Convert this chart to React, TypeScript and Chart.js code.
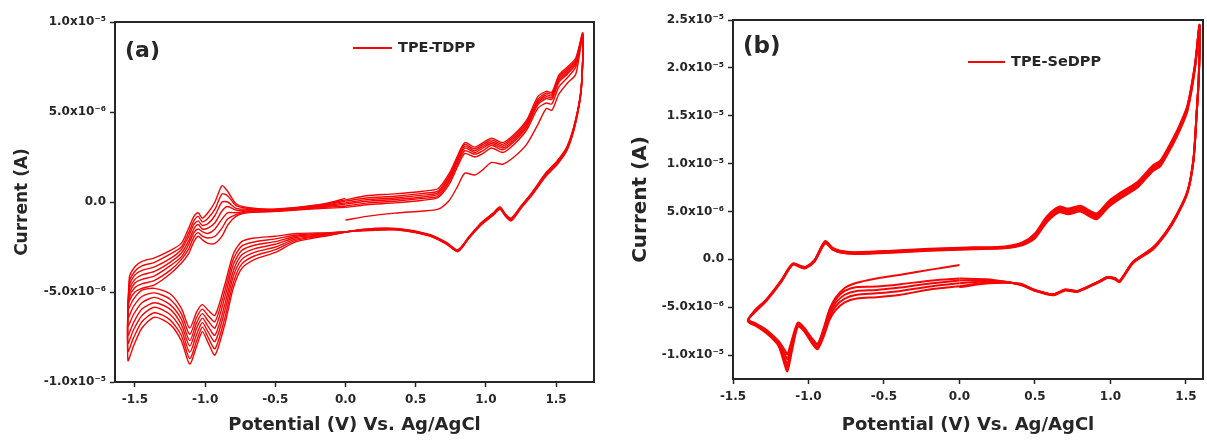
import { useEffect, useRef } from 'react';
import { Chart, registerables } from 'chart.js';

Chart.register(...registerables);

// ---------------- Panel (a): TPE-TDPP ----------------
// Potential program of one cycle (V): 0 -> +1.69 -> -1.55 -> 0
const A_POTENTIAL = [
  0.0, 0.15, 0.35, 0.55, 0.66, 0.74, 0.8, 0.85, 0.92, 0.98, 1.04, 1.12, 1.2, 1.29, 1.37, 1.43, 1.47, 1.52, 1.58, 1.64, 1.69,
  1.68, 1.64, 1.58, 1.51, 1.43, 1.33, 1.25, 1.18, 1.14, 1.1, 1.05, 0.97, 0.88, 0.8, 0.72, 0.6, 0.36, 0.12, -0.11, -0.35,
  -0.5, -0.65, -0.74, -0.8, -0.86, -0.93, -0.98, -1.02, -1.06, -1.11, -1.17, -1.25, -1.36, -1.45, -1.51, -1.55,
  -1.54, -1.5, -1.45, -1.36, -1.25, -1.17, -1.12, -1.08, -1.05, -1.02, -0.98, -0.93, -0.88, -0.84, -0.78, -0.7, -0.55, -0.35, -0.15, 0.0,
];

// Currents in microampere, one array per cycle
const A_CYCLE_1 = [
  -1.0, -0.8, -0.62, -0.5, -0.4, 0.1, 0.9, 1.6, 1.5, 1.8, 2.2, 2.1, 2.5, 3.2, 4.3, 5.2, 5.1, 6.0, 6.6, 7.1, 9.3,
  6.3, 4.4, 2.9, 2.1, 1.45, 0.4, -0.35, -1.05, -0.8, -0.4, -0.75, -1.25, -2.0, -2.75, -2.35, -1.9, -1.55, -1.6, -1.7, -1.75,
  -1.9, -2.0, -2.2, -2.9, -4.6, -6.3, -6.0, -5.7, -6.1, -7.0, -5.9, -5.1, -4.8, -4.9, -5.4, -6.0,
  -5.5, -5.0, -4.8, -4.6, -4.0, -3.4, -2.9, -2.2, -1.9, -2.1, -2.3, -2.3, -1.9, -1.3, -0.8, -0.6, -0.55, -0.45, -0.35, -0.3,
];
const A_CYCLE_2 = [
  -0.3, -0.15, -0.05, 0.1, 0.25, 1.0, 2.0, 2.7, 2.5, 2.7, 3.0, 2.75, 3.2, 4.0, 5.2, 5.5, 5.45, 6.4, 6.9, 7.5, 9.2,
  6.35, 4.45, 2.95, 2.15, 1.5, 0.42, -0.33, -1.0, -0.78, -0.38, -0.72, -1.22, -2.0, -2.75, -2.33, -1.88, -1.54, -1.58, -1.72, -1.83,
  -2.05, -2.22, -2.45, -3.2, -4.95, -6.65, -6.3, -5.95, -6.4, -7.35, -6.2, -5.4, -5.05, -5.25, -5.8, -6.45,
  -5.3, -4.75, -4.55, -4.35, -3.8, -3.2, -2.65, -1.95, -1.7, -1.9, -2.0, -1.9, -1.45, -0.95, -0.7, -0.55, -0.52, -0.42, -0.3, -0.22,
];
const A_CYCLE_3 = [
  -0.22, -0.06, 0.04, 0.2, 0.33, 1.15, 2.15, 2.85, 2.65, 2.85, 3.15, 2.9, 3.35, 4.15, 5.4, 5.75, 5.7, 6.65, 7.1, 7.65, 9.3,
  6.4, 4.5, 3.0, 2.2, 1.55, 0.45, -0.3, -1.0, -0.75, -0.35, -0.7, -1.2, -1.98, -2.72, -2.3, -1.87, -1.52, -1.57, -1.75, -1.9,
  -2.2, -2.4, -2.7, -3.5, -5.3, -7.0, -6.6, -6.2, -6.7, -7.7, -6.5, -5.7, -5.3, -5.6, -6.25, -6.9,
  -5.1, -4.5, -4.3, -4.1, -3.55, -3.05, -2.4, -1.7, -1.5, -1.65, -1.75, -1.5, -0.95, -0.6, -0.6, -0.5, -0.5, -0.4, -0.26, -0.12,
];
const A_CYCLE_4 = [
  -0.12, 0.04, 0.14, 0.28, 0.43, 1.25, 2.3, 3.0, 2.75, 3.0, 3.25, 3.0, 3.45, 4.25, 5.5, 5.85, 5.8, 6.75, 7.2, 7.75, 9.3,
  6.3, 4.55, 3.05, 2.2, 1.55, 0.47, -0.3, -0.98, -0.75, -0.35, -0.7, -1.2, -1.97, -2.7, -2.3, -1.85, -1.5, -1.55, -1.78, -1.97,
  -2.35, -2.6, -2.95, -3.85, -5.7, -7.4, -6.9, -6.45, -7.0, -8.0, -6.8, -5.95, -5.6, -5.95, -6.7, -7.4,
  -4.9, -4.3, -4.05, -3.85, -3.35, -2.85, -2.2, -1.5, -1.25, -1.5, -1.45, -1.15, -0.5, -0.25, -0.45, -0.45, -0.47, -0.37, -0.22, -0.05,
];
const A_CYCLE_5 = [
  -0.05, 0.13, 0.22, 0.38, 0.52, 1.38, 2.4, 3.1, 2.85, 3.1, 3.35, 3.1, 3.55, 4.35, 5.6, 5.95, 5.9, 6.85, 7.3, 7.85, 9.35,
  6.45, 4.5, 3.0, 2.25, 1.6, 0.5, -0.27, -0.95, -0.72, -0.32, -0.68, -1.18, -1.95, -2.7, -2.28, -1.84, -1.5, -1.55, -1.8, -2.05,
  -2.5, -2.8, -3.2, -4.15, -6.05, -7.75, -7.2, -6.7, -7.35, -8.35, -7.1, -6.25, -5.85, -6.3, -7.1, -7.85,
  -4.7, -4.05, -3.8, -3.6, -3.15, -2.65, -1.95, -1.25, -1.05, -1.3, -1.2, -0.75, 0.0, 0.0, -0.35, -0.4, -0.45, -0.35, -0.18, 0.05,
];
const A_CYCLE_6 = [
  0.05, 0.22, 0.32, 0.48, 0.62, 1.48, 2.5, 3.2, 2.95, 3.2, 3.45, 3.2, 3.65, 4.45, 5.7, 6.05, 6.0, 6.95, 7.4, 7.9, 9.3,
  6.4, 4.6, 3.1, 2.3, 1.6, 0.5, -0.25, -0.95, -0.7, -0.3, -0.65, -1.15, -1.95, -2.68, -2.27, -1.83, -1.48, -1.53, -1.82, -2.12,
  -2.65, -3.0, -3.45, -4.5, -6.45, -8.15, -7.5, -6.95, -7.7, -8.7, -7.4, -6.55, -6.15, -6.65, -7.55, -8.3,
  -4.45, -3.85, -3.55, -3.35, -2.9, -2.5, -1.75, -1.05, -0.8, -1.1, -0.9, -0.4, 0.45, 0.35, -0.2, -0.35, -0.42, -0.32, -0.14, 0.12,
];
const A_CYCLE_7 = [
  0.12, 0.35, 0.45, 0.6, 0.75, 1.6, 2.6, 3.3, 3.05, 3.3, 3.55, 3.3, 3.75, 4.55, 5.85, 6.15, 6.1, 7.05, 7.5, 8.0, 9.4,
  6.5, 4.6, 3.1, 2.3, 1.65, 0.55, -0.22, -0.9, -0.68, -0.28, -0.62, -1.12, -1.92, -2.65, -2.25, -1.8, -1.47, -1.52, -1.85, -2.2,
  -2.8, -3.2, -3.7, -4.8, -6.8, -8.5, -7.8, -7.2, -8.0, -9.0, -7.7, -6.8, -6.4, -7.0, -8.0, -8.8,
  -4.2, -3.6, -3.3, -3.1, -2.7, -2.3, -1.5, -0.8, -0.6, -0.9, -0.6, 0.0, 0.9, 0.6, -0.1, -0.3, -0.4, -0.3, -0.1, 0.2,
];
const A_CYCLES = [A_CYCLE_1, A_CYCLE_2, A_CYCLE_3, A_CYCLE_4, A_CYCLE_5, A_CYCLE_6, A_CYCLE_7];

const A_X_TICKS = [-1.5, -1.0, -0.5, 0.0, 0.5, 1.0, 1.5];
const A_X_LABELS = ['-1.5', '-1.0', '-0.5', '0.0', '0.5', '1.0', '1.5'];
const A_Y_TICKS = [-1e-5, -5e-6, 0, 5e-6, 1e-5];
const A_Y_LABELS = ['-1.0x10\u207B\u2075', '-5.0x10\u207B\u2076', '0.0', '5.0x10\u207B\u2076', '1.0x10\u207B\u2075'];

// ---------------- Panel (b): TPE-SeDPP ----------------
// Potential program of one cycle (V): 0 -> -1.40 -> +1.59 -> 0
const B_POTENTIAL = [
  0.0, -0.18, -0.39, -0.55, -0.68, -0.76, -0.82, -0.86, -0.9, -0.94, -0.98, -1.03, -1.07, -1.11, -1.14, -1.16, -1.2, -1.28, -1.35, -1.4,
  -1.36, -1.28, -1.18, -1.13, -1.1, -1.05, -1.02, -0.96, -0.89, -0.84, -0.79, -0.7, -0.45, -0.2, 0.1, 0.3, 0.42, 0.5, 0.58, 0.66,
  0.72, 0.8, 0.86, 0.91, 0.99, 1.08, 1.18, 1.28, 1.33, 1.41, 1.46, 1.51, 1.56, 1.59,
  1.585, 1.57, 1.55, 1.51, 1.44, 1.37, 1.28, 1.15, 1.06, 1.03, 0.98, 0.93, 0.85, 0.78, 0.7, 0.62, 0.5, 0.4, 0.2, 0.0,
];

const B_CYCLE_1 = [
  -0.6, -1.05, -1.6, -2.0, -2.45, -3.0, -4.0, -5.2, -7.2, -8.8, -8.2, -7.1, -6.6, -8.4, -9.9, -9.4, -8.5, -7.35, -6.7, -6.3,
  -5.6, -4.35, -2.35, -1.05, -0.55, -0.85, -0.95, -0.25, 1.65, 1.0, 0.7, 0.55, 0.7, 0.9, 1.05, 1.15, 1.5, 2.2, 3.9, 4.9,
  4.7, 5.0, 4.5, 4.2, 5.5, 6.5, 7.5, 9.2, 9.7, 11.9, 13.5, 15.5, 19.9, 24.3,
  18.9, 14.9, 10.3, 6.9, 4.5, 2.7, 1.0, -0.4, -2.4, -2.1, -1.95, -2.35, -2.95, -3.4, -3.25, -3.75, -3.3, -2.65, -2.1, -2.0,
];
const B_CYCLE_2 = [
  -2.0, -2.2, -2.6, -2.85, -2.9, -3.3, -4.2, -5.3, -7.4, -8.9, -8.3, -7.2, -6.7, -8.7, -10.4, -9.8, -8.6, -7.4, -6.75, -6.35,
  -5.55, -4.3, -2.3, -1.0, -0.5, -0.8, -0.9, -0.2, 1.7, 1.05, 0.75, 0.6, 0.75, 0.95, 1.1, 1.2, 1.55, 2.35, 4.05, 5.05,
  4.85, 5.15, 4.65, 4.35, 5.65, 6.65, 7.65, 9.35, 9.85, 12.05, 13.65, 15.65, 20.05, 24.4,
  18.95, 15.0, 10.4, 7.0, 4.6, 2.8, 1.1, -0.3, -2.35, -2.05, -1.9, -2.3, -2.9, -3.35, -3.2, -3.7, -3.25, -2.6, -2.2, -2.2,
];
const B_CYCLE_3 = [
  -2.2, -2.5, -2.95, -3.2, -3.3, -3.7, -4.55, -5.6, -7.6, -9.1, -8.45, -7.3, -6.8, -9.0, -10.9, -10.2, -8.8, -7.5, -6.8, -6.4,
  -5.5, -4.3, -2.25, -0.95, -0.45, -0.8, -0.85, -0.15, 1.8, 1.1, 0.8, 0.65, 0.8, 1.0, 1.15, 1.25, 1.65, 2.45, 4.2, 5.2,
  5.0, 5.3, 4.8, 4.5, 5.8, 6.8, 7.8, 9.5, 10.0, 12.2, 13.8, 15.8, 20.2, 24.4,
  19.0, 15.0, 10.4, 7.0, 4.6, 2.8, 1.1, -0.3, -2.3, -2.0, -1.9, -2.3, -2.9, -3.35, -3.2, -3.7, -3.25, -2.6, -2.3, -2.5,
];
const B_CYCLE_4 = [
  -2.5, -2.8, -3.3, -3.55, -3.7, -4.1, -4.9, -6.0, -7.9, -9.2, -8.6, -7.4, -6.9, -9.3, -11.3, -10.6, -8.9, -7.6, -6.85, -6.45,
  -5.45, -4.25, -2.2, -0.95, -0.45, -0.75, -0.85, -0.1, 1.85, 1.15, 0.85, 0.7, 0.85, 1.05, 1.2, 1.3, 1.7, 2.55, 4.35, 5.35,
  5.15, 5.45, 4.95, 4.65, 5.95, 6.95, 7.95, 9.65, 10.15, 12.35, 13.95, 15.95, 20.3, 24.5,
  19.1, 15.1, 10.5, 7.1, 4.7, 2.9, 1.2, -0.25, -2.3, -2.0, -1.85, -2.25, -2.85, -3.3, -3.15, -3.65, -3.2, -2.55, -2.4, -2.8,
];
const B_CYCLE_5 = [
  -2.8, -3.1, -3.7, -3.95, -4.1, -4.5, -5.3, -6.3, -8.1, -9.4, -8.7, -7.5, -7.0, -9.6, -11.7, -10.9, -9.0, -7.7, -6.95, -6.5,
  -5.4, -4.2, -2.2, -0.9, -0.4, -0.7, -0.8, -0.05, 1.9, 1.2, 0.9, 0.75, 0.9, 1.1, 1.25, 1.35, 1.8, 2.7, 4.5, 5.5,
  5.3, 5.6, 5.1, 4.8, 6.1, 7.1, 8.1, 9.8, 10.3, 12.5, 14.1, 16.1, 20.4, 24.5,
  19.1, 15.1, 10.5, 7.1, 4.7, 2.9, 1.2, -0.25, -2.25, -1.95, -1.85, -2.25, -2.85, -3.3, -3.15, -3.65, -3.2, -2.55, -2.5, -2.9,
];
const B_CYCLES = [B_CYCLE_1, B_CYCLE_2, B_CYCLE_3, B_CYCLE_4, B_CYCLE_5];

const B_X_TICKS = [-1.5, -1.0, -0.5, 0.0, 0.5, 1.0, 1.5];
const B_X_LABELS = ['-1.5', '-1.0', '-0.5', '0.0', '0.5', '1.0', '1.5'];
const B_Y_TICKS = [-1e-5, -5e-6, 0, 5e-6, 1e-5, 1.5e-5, 2e-5, 2.5e-5];
const B_Y_LABELS = [
  '-1.0x10\u207B\u2075', '-5.0x10\u207B\u2076', '0.0', '5.0x10\u207B\u2076',
  '1.0x10\u207B\u2075', '1.5x10\u207B\u2075', '2.0x10\u207B\u2075', '2.5x10\u207B\u2075',
];

const X_TITLE = 'Potential (V) Vs. Ag/AgCl';
const Y_TITLE = 'Current (A)';

// ---------------- styling ----------------
const RED = 'rgb(245, 6, 6)';
const INK = '#262626';
const FONT = "'DejaVu Sans', 'Liberation Sans', Arial, sans-serif";

const decorPlugin = {
  id: 'cvDecor',
  afterDraw(chart: any, _args: any, opts: any) {
    const { ctx, chartArea: a } = chart;
    ctx.save();
    ctx.strokeStyle = INK;
    ctx.lineWidth = 2;
    ctx.strokeRect(a.left, a.top, a.right - a.left, a.bottom - a.top);
    ctx.fillStyle = INK;
    ctx.textAlign = 'left';
    ctx.textBaseline = 'middle';
    ctx.font = `bold ${opts.labelSize}px ${FONT}`;
    ctx.fillText(opts.label, a.left + opts.labelDx, a.top + opts.labelDy);
    ctx.strokeStyle = RED;
    ctx.lineWidth = 2;
    ctx.beginPath();
    ctx.moveTo(a.left + opts.legDx, a.top + opts.legDy);
    ctx.lineTo(a.left + opts.legDx + opts.legLen, a.top + opts.legDy);
    ctx.stroke();
    ctx.font = `bold 14.5px ${FONT}`;
    ctx.fillText(opts.legend, a.left + opts.legDx + opts.legLen + 6, a.top + opts.legDy);
    ctx.restore();
  },
};

function buildConfig(p: any): any {
  const tickFont = { family: FONT, size: 12, weight: 'bold' };
  return {
    type: 'scatter',
    data: {
      datasets: p.cycles.map((cur: number[], i: number) => ({
        label: `${p.legend} cycle ${i + 1}`,
        data: p.pot.map((x: number, j: number) => ({ x, y: cur[j] * 1e-6 })),
        showLine: true,
        borderColor: RED,
        backgroundColor: RED,
        borderWidth: p.lineWidth,
        pointRadius: 0,
        tension: 0.25,
        fill: false,
      })),
    },
    options: {
      responsive: false,
      maintainAspectRatio: false,
      animation: false,
      events: [],
      layout: { padding: p.padding },
      plugins: {
        legend: { display: false },
        tooltip: { enabled: false },
        cvDecor: p.decor,
      },
      scales: {
        x: {
          type: 'linear',
          min: p.xMin,
          max: p.xMax,
          afterBuildTicks: (s: any) => {
            s.ticks = p.xTicks.map((v: number) => ({ value: v }));
          },
          afterFit: (s: any) => {
            s.height = p.xAxisH;
          },
          ticks: {
            autoSkip: false,
            maxRotation: 0,
            padding: 6,
            color: INK,
            font: tickFont,
            callback: (v: number) => p.xLabels[p.xTicks.indexOf(v)],
          },
          grid: { display: true, drawOnChartArea: false, drawTicks: true, tickLength: 5, tickWidth: 1.5, tickColor: INK },
          border: { display: true, color: INK, width: 2 },
          title: {
            display: true,
            text: X_TITLE,
            color: INK,
            font: { family: FONT, size: 18, weight: 'bold' },
            padding: { top: 0, bottom: 7 },
          },
        },
        y: {
          type: 'linear',
          min: p.yMin,
          max: p.yMax,
          afterBuildTicks: (s: any) => {
            s.ticks = p.yTicks.map((v: number) => ({ value: v }));
          },
          afterFit: (s: any) => {
            s.width = p.yAxisW;
          },
          ticks: {
            autoSkip: false,
            padding: 4,
            color: INK,
            font: tickFont,
            callback: (v: number) => p.yLabels[p.yTicks.indexOf(v)],
          },
          grid: { display: true, drawOnChartArea: false, drawTicks: true, tickLength: 5, tickWidth: 1.5, tickColor: INK },
          border: { display: true, color: INK, width: 2 },
          title: {
            display: true,
            text: Y_TITLE,
            color: INK,
            font: { family: FONT, size: p.yTitleSize, weight: 'bold' },
            padding: { top: p.yTitlePad, bottom: 0 },
          },
        },
      },
    },
    plugins: [decorPlugin],
  };
}

const PANEL_A = {
  cycles: A_CYCLES,
  pot: A_POTENTIAL,
  legend: 'TPE-TDPP',
  lineWidth: 1.4,
  xMin: -1.642,
  xMax: 1.77,
  yMin: -1e-5,
  yMax: 1e-5,
  xTicks: A_X_TICKS,
  xLabels: A_X_LABELS,
  yTicks: A_Y_TICKS,
  yLabels: A_Y_LABELS,
  padding: { left: 0, right: 6, top: 22, bottom: 0 },
  xAxisH: 61,
  yAxisW: 115,
  yTitleSize: 17,
  yTitlePad: 12,
  decor: { label: '(a)', labelSize: 22, labelDx: 10, labelDy: 29, legend: 'TPE-TDPP', legDx: 238, legDy: 26, legLen: 39 },
};

const PANEL_B = {
  cycles: B_CYCLES,
  pot: B_POTENTIAL,
  legend: 'TPE-SeDPP',
  lineWidth: 2.0,
  xMin: -1.5,
  xMax: 1.613,
  yMin: -1.25e-5,
  yMax: 2.5e-5,
  xTicks: B_X_TICKS,
  xLabels: B_X_LABELS,
  yTicks: B_Y_TICKS,
  yLabels: B_Y_LABELS,
  padding: { left: 0, right: 4, top: 20, bottom: 0 },
  xAxisH: 64,
  yAxisW: 133,
  yTitleSize: 20,
  yTitlePad: 29,
  decor: { label: '(b)', labelSize: 23, labelDx: 10, labelDy: 27, legend: 'TPE-SeDPP', legDx: 235, legDy: 42, legLen: 37 },
};

export default function App() {
  const refA = useRef<HTMLCanvasElement | null>(null);
  const refB = useRef<HTMLCanvasElement | null>(null);

  useEffect(() => {
    const charts: Chart[] = [];
    if (refA.current) charts.push(new Chart(refA.current, buildConfig(PANEL_A)));
    if (refB.current) charts.push(new Chart(refB.current, buildConfig(PANEL_B)));
    return () => charts.forEach((c) => c.destroy());
  }, []);

  return (
    <div style={{ position: 'absolute', left: 0, top: 0, width: 1207, height: 443, background: '#fff', overflow: 'hidden' }}>
      <canvas ref={refA} width={600} height={443} style={{ position: 'absolute', left: 0, top: 0 }} />
      <canvas ref={refB} width={607} height={443} style={{ position: 'absolute', left: 600, top: 0 }} />
    </div>
  );
}
